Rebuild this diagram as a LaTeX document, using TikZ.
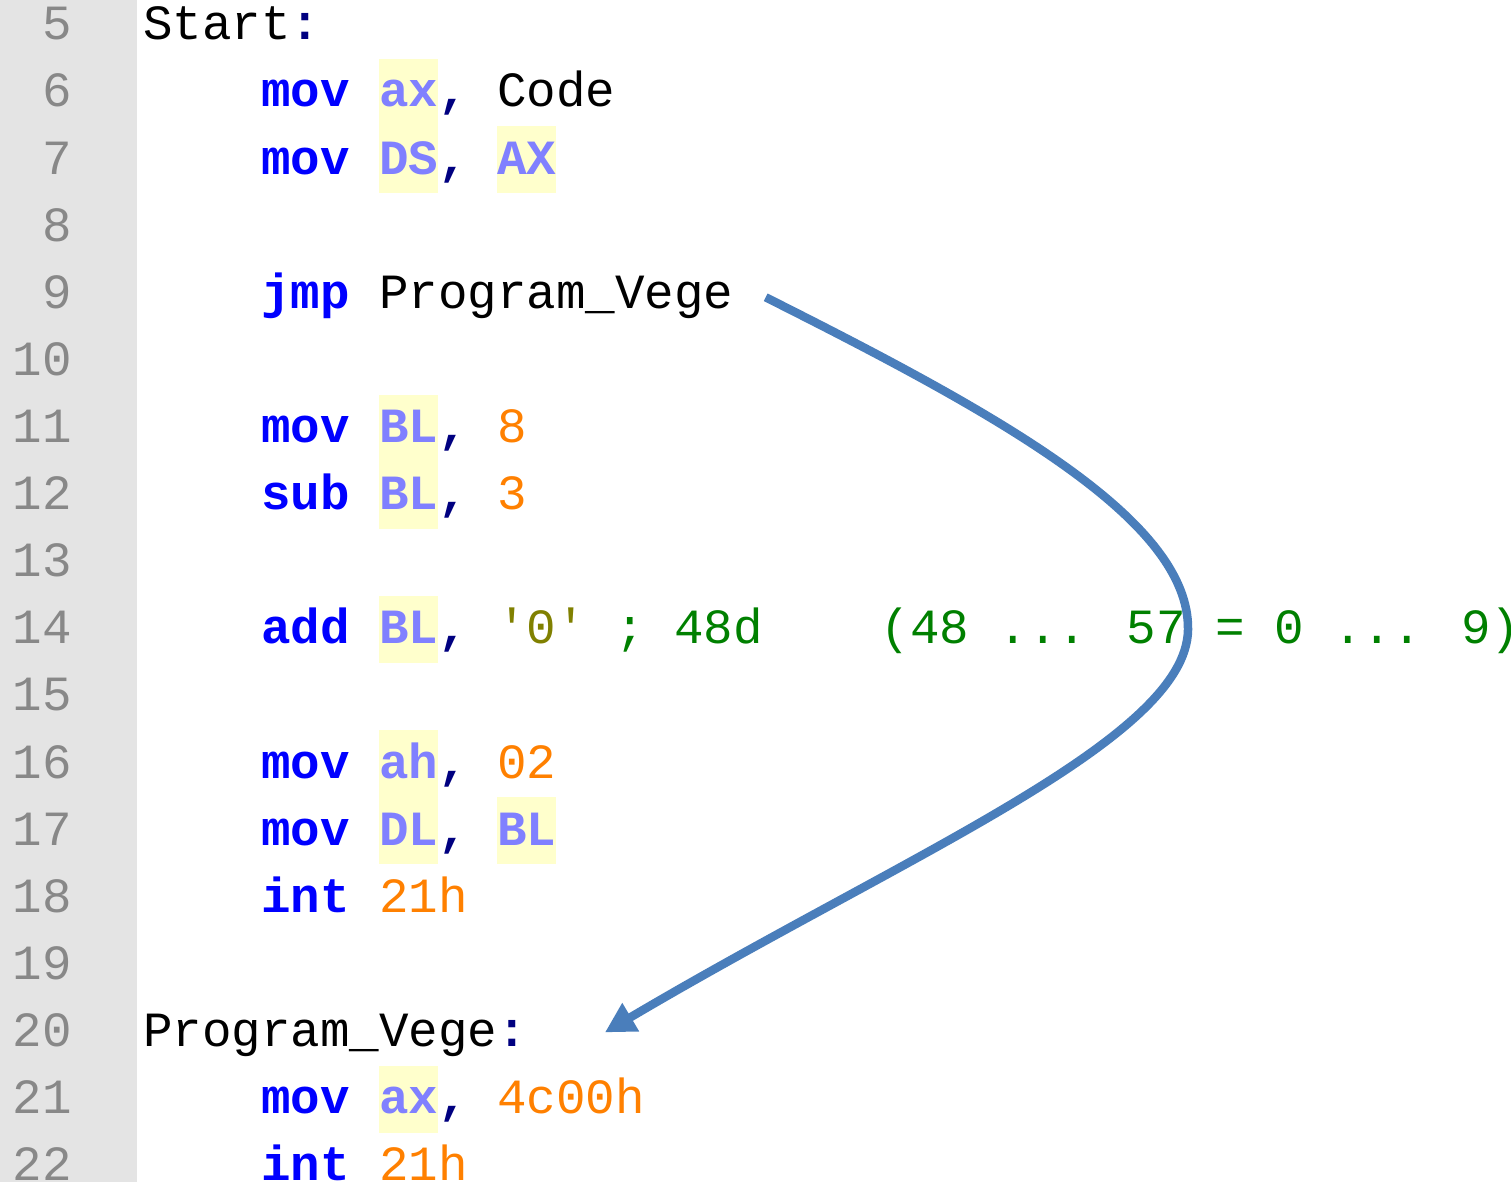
\documentclass[tikz,border=0pt]{standalone}
\usepackage{fontspec}
\newfontfamily\codefont{Liberation Mono}
\usetikzlibrary{arrows.meta}
\definecolor{GutterGray}{HTML}{E4E4E4}
\definecolor{LineNumGray}{HTML}{888888}
\definecolor{KwBlue}{HTML}{0000FF}
\definecolor{RegBlue}{HTML}{8080FF}
\definecolor{RegHilite}{HTML}{FFFFCC}
\definecolor{OpNavy}{HTML}{000080}
\definecolor{NumOrange}{HTML}{FF8000}
\definecolor{StrOlive}{HTML}{808000}
\definecolor{CmtGreen}{HTML}{008000}
\definecolor{JmpBlue}{HTML}{4A7EBB}
\tikzset{
    code/.style = {inner sep=0pt, anchor=base west,
        font=\codefont\fontsize{49.2}{60}\selectfont},
    lnum/.style = {code, anchor=base east, text=LineNumGray},
    lbl/.style = {code, text=black},
    kw/.style = {code, text=KwBlue, font=\codefont\fontsize{49.2}{60}\selectfont\bfseries},
    reg/.style = {kw, text=RegBlue, fill=RegHilite, text height=48pt, text depth=19.3pt},
    op/.style = {kw, text=OpNavy},
    num/.style = {code, text=NumOrange},
    str/.style = {code, text=StrOlive},
    cmt/.style = {code, text=CmtGreen},
    jmparrow/.style = {draw=JmpBlue, line width=8.5pt,
        -{Triangle[length=30pt,width=31pt]}},
    declare function = {cx(\c)=143+\c*29.5; ly(\l)=107+(\l-6)*67.1;}
}

\begin{document}
\begin{tikzpicture}[x=1pt,y=-1pt]
  \useasboundingbox (0,0) rectangle (1511,1182);
  \fill[GutterGray] (0,0) rectangle (137,1182);
  \foreach \n in {5,...,22}
    \node[lnum] (ln\n) at (72,{ly(\n)}) {\n};

  % line 5
  \node[lbl] (start) at ({cx(0)},{ly(5)}) {Start};
  \node[op] (startc) at ({cx(5)},{ly(5)}) {:};
  % lines 6-7
  \node[kw] (mov6) at ({cx(4)},{ly(6)}) {mov};
  \node[reg] (ax6) at ({cx(8)},{ly(6)}) {ax};
  \node[op] (c6) at ({cx(10)},{ly(6)}) {,};
  \node[lbl] (code6) at ({cx(12)},{ly(6)}) {Code};
  \node[kw] (mov7) at ({cx(4)},{ly(7)}) {mov};
  \node[reg] (ds7) at ({cx(8)},{ly(7)}) {DS};
  \node[op] (c7) at ({cx(10)},{ly(7)}) {,};
  \node[reg] (ax7) at ({cx(12)},{ly(7)}) {AX};
  % line 9
  \node[kw] (jmp9) at ({cx(4)},{ly(9)}) {jmp};
  \node[lbl] (tgt9) at ({cx(8)},{ly(9)}) {Program\_Vege};
  % lines 11-14
  \node[kw] (mov11) at ({cx(4)},{ly(11)}) {mov};
  \node[reg] (bl11) at ({cx(8)},{ly(11)}) {BL};
  \node[op] (c11) at ({cx(10)},{ly(11)}) {,};
  \node[num] (n11) at ({cx(12)},{ly(11)}) {8};
  \node[kw] (sub12) at ({cx(4)},{ly(12)}) {sub};
  \node[reg] (bl12) at ({cx(8)},{ly(12)}) {BL};
  \node[op] (c12) at ({cx(10)},{ly(12)}) {,};
  \node[num] (n12) at ({cx(12)},{ly(12)}) {3};
  \node[kw] (add14) at ({cx(4)},{ly(14)}) {add};
  \node[reg] (bl14) at ({cx(8)},{ly(14)}) {BL};
  \node[op] (c14) at ({cx(10)},{ly(14)}) {,};
  \node[str] (s14) at ({cx(12)},{ly(14)}) {\textquotesingle0\textquotesingle};
  \node[cmt] (cm14) at ({cx(16)},{ly(14)}) {; 48d};
  \node[cmt] (rng14) at ({cx(25)},{ly(14)}) {(48 ... 57 = 0 ... 9)};
  % lines 16-18
  \node[kw] (mov16) at ({cx(4)},{ly(16)}) {mov};
  \node[reg] (ah16) at ({cx(8)},{ly(16)}) {ah};
  \node[op] (c16) at ({cx(10)},{ly(16)}) {,};
  \node[num] (n16) at ({cx(12)},{ly(16)}) {02};
  \node[kw] (mov17) at ({cx(4)},{ly(17)}) {mov};
  \node[reg] (dl17) at ({cx(8)},{ly(17)}) {DL};
  \node[op] (c17) at ({cx(10)},{ly(17)}) {,};
  \node[reg] (bl17) at ({cx(12)},{ly(17)}) {BL};
  \node[kw] (int18) at ({cx(4)},{ly(18)}) {int};
  \node[num] (n18) at ({cx(8)},{ly(18)}) {21h};
  % lines 20-22
  \node[lbl] (vege) at ({cx(0)},{ly(20)}) {Program\_Vege};
  \node[op] (vegec) at ({cx(12)},{ly(20)}) {:};
  \node[kw] (mov21) at ({cx(4)},{ly(21)}) {mov};
  \node[reg] (ax21) at ({cx(8)},{ly(21)}) {ax};
  \node[op] (c21) at ({cx(10)},{ly(21)}) {,};
  \node[num] (n21) at ({cx(12)},{ly(21)}) {4c00h};
  \node[kw] (int22) at ({cx(4)},{ly(22)}) {int};
  \node[num] (n22) at ({cx(8)},{ly(22)}) {21h};

  % jump arrow
  \coordinate (jmpFrom) at ([xshift=32pt,yshift=11pt]tgt9.base east);
  \coordinate (jmpTurn) at (1188,630);
  \coordinate (jmpTo) at ([xshift=78pt,yshift=14pt]vegec.base east);
  \draw[jmparrow] (jmpFrom) .. controls (1000,415) and (1190,520) .. (jmpTurn)
    .. controls (1186,740) and (905,855) .. (jmpTo);
\end{tikzpicture}
\end{document}
